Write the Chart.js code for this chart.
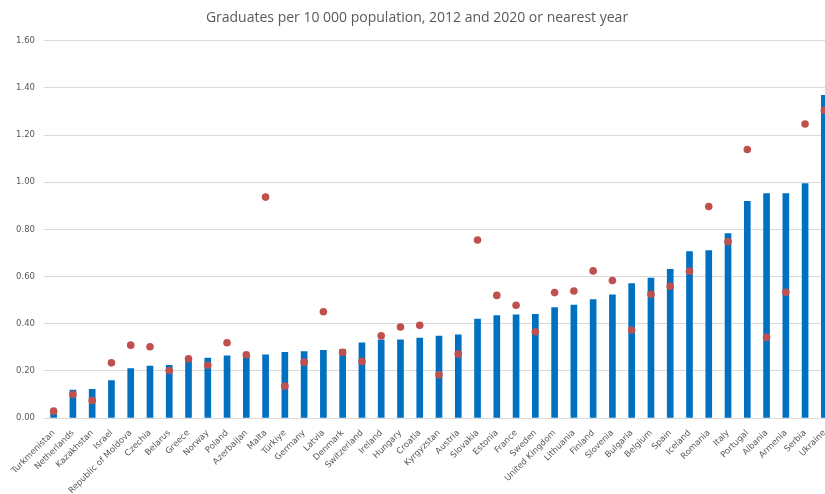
<!DOCTYPE html>
<html>
<head>
<meta charset="utf-8">
<script src="https://cdn.jsdelivr.net/npm/chart.js@4"></script>
<style>
html,body{margin:0;padding:0;overflow:hidden;background:#fff;width:825px;height:494px;}
#wrap{position:absolute;left:0;top:0;width:850px;height:494px;}
</style>
</head>
<body>
<div id="wrap"><canvas id="c" width="850" height="494"></canvas></div>
<script>
const titleText = 'Graduates per 10 000 population, 2012 and 2020 or nearest year';
const categories = ['Turkmenistan','Netherlands','Kazakhstan','Israel','Republic of Moldova','Czechia','Belarus','Greece','Norway','Poland','Azerbaijan','Malta','Türkiye','Germany','Latvia','Denmark','Switzerland','Ireland','Hungary','Croatia','Kyrgyzstan','Austria','Slovakia','Estonia','France','Sweden','United Kingdom','Lithuania','Finland','Slovenia','Bulgaria','Belgium','Spain','Iceland','Romania','Italy','Portugal','Albania','Armenia','Serbia','Ukraine'];
const values2020 = [0.023,0.118,0.122,0.159,0.21,0.22,0.223,0.245,0.254,0.264,0.266,0.268,0.279,0.282,0.287,0.291,0.319,0.332,0.332,0.339,0.348,0.353,0.42,0.434,0.438,0.44,0.468,0.479,0.502,0.522,0.57,0.593,0.631,0.706,0.71,0.782,0.919,0.952,0.952,0.994,1.369];
const values2012 = [0.029,0.10,0.074,0.234,0.309,0.302,0.201,0.251,0.224,0.319,0.268,0.937,0.135,0.237,0.451,0.279,0.24,0.349,0.386,0.393,0.183,0.271,0.755,0.52,0.478,0.366,0.532,0.539,0.624,0.583,0.373,0.525,0.559,0.623,0.897,0.748,1.139,0.342,0.533,1.247,1.305];
const yTicks = [0,0.2,0.4,0.6,0.8,1.0,1.2,1.4,1.6];

new Chart(document.getElementById('c'), {
  type: 'bar',
  data: {
    labels: categories,
    datasets: [
      {
        type: 'line',
        label: '2012',
        data: values2012,
        showLine: false,
        pointRadius: 3.8,
        pointHoverRadius: 3.8,
        pointBackgroundColor: '#C0504D',
        pointBorderColor: '#C0504D',
        pointBorderWidth: 0,
        order: 0
      },
      {
        type: 'bar',
        label: '2020',
        data: values2020,
        backgroundColor: '#0070C0',
        borderWidth: 0,
        barThickness: 6,
        order: 1
      }
    ]
  },
  options: {
    responsive: false,
    animation: false,
    layout: { padding: { left: 0, right: 16, top: 0, bottom: 0 } },
    plugins: {
      legend: { display: false },
      tooltip: { enabled: false },
      title: {
        display: true,
        text: titleText,
        color: '#595959',
        font: { family: 'Open Sans', size: 14, weight: 'normal' },
        padding: { top: 10, bottom: 14 }
      }
    },
    scales: {
      x: {
        offset: true,
        grid: { display: false, drawTicks: false },
        border: { display: true, color: '#d9d9d9', width: 1 },
        ticks: {
          autoSkip: false,
          minRotation: 45,
          maxRotation: 45,
          padding: 10,
          color: '#595959',
          font: { family: 'DejaVu Sans', size: 8.5 }
        },
        afterFit: (s) => { s.height = 76; }
      },
      y: {
        min: 0,
        max: 1.6,
        afterBuildTicks: (s) => { s.ticks = yTicks.map(v => ({ value: v })); },
        grid: { color: '#d9d9d9', lineWidth: 1, drawTicks: false },
        border: { display: false },
        ticks: {
          padding: 9,
          color: '#595959',
          font: { family: 'DejaVu Sans', size: 8.5 },
          callback: (v) => Number(v).toFixed(2)
        },
        afterFit: (s) => { s.width = 44; }
      }
    }
  }
});
</script>
</body>
</html>
